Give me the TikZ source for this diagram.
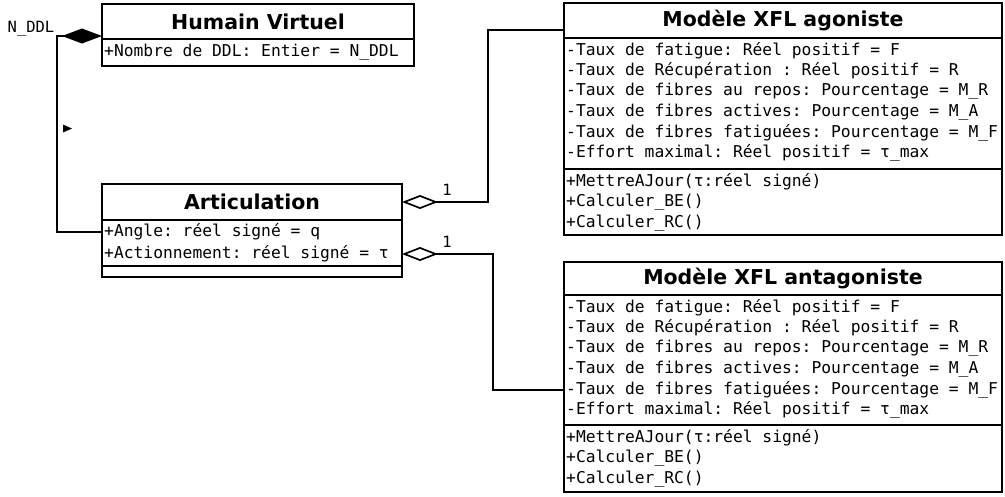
\documentclass[tikz,border=0pt]{standalone}
\usepackage{fontspec}
\newfontfamily\monof{DejaVu Sans Mono}
\newfontfamily\titlef{DejaVu Sans}
\usetikzlibrary{arrows.meta}
\frenchspacing
\begin{document}
\begin{tikzpicture}[x=1pt,y=-1pt,
  box/.style={draw, line width=1.7pt, anchor=north west, inner sep=0pt, outer sep=0pt},
  ttl/.style={font=\titlef\bfseries\fontsize{20.5}{24}\selectfont},
  row/.style={anchor=west, inner sep=0pt, font=\monof\frenchspacing\fontsize{16.3}{19}\selectfont},
  lbl/.style={inner sep=0pt, font=\monof\fontsize{15.5}{18}\selectfont},
  conn/.style={line width=1.7pt}]
\useasboundingbox (0,0) rectangle (1005,496);

% Humain Virtuel
\node[box, ttl, minimum width=312pt, minimum height=35pt] (hvT) at (102,4) {Humain Virtuel};
\node[box, minimum width=312pt, minimum height=27pt] (hvA) at (102,39) {};
\node[row] (hv1) at (104,52.5) {+Nombre de DDL: Entier = N\_DDL};

% Articulation
\node[box, ttl, minimum width=300pt, minimum height=36pt] (artT) at (102,184) {Articulation};
\node[box, minimum width=300pt, minimum height=46pt] (artA) at (102,220) {};
\node[box, minimum width=300pt, minimum height=11pt] (artM) at (102,266) {};
\node[row] (art1) at (104,232) {+Angle: réel signé = q};
\node[row] (art2) at (104,254) {+Actionnement: réel signé = τ};

% Modele XFL agoniste
\node[box, ttl, minimum width=438pt, minimum height=35pt] (agT) at (564,3) {Modèle XFL agoniste};
\node[box, minimum width=438pt, minimum height=131pt] (agA) at (564,38) {};
\node[box, minimum width=438pt, minimum height=66pt] (agM) at (564,169) {};
\node[row] (ag1) at (566,50.5) {-Taux de fatigue: Réel positif = F};
\node[row] (ag2) at (566,71) {-Taux de Récupération : Réel positif = R};
\node[row] (ag3) at (566,91.5) {-Taux de fibres au repos: Pourcentage = M\_R};
\node[row] (ag4) at (566,112) {-Taux de fibres actives: Pourcentage = M\_A};
\node[row] (ag5) at (566,132.5) {-Taux de fibres fatiguées: Pourcentage = M\_F};
\node[row] (ag6) at (566,153) {-Effort maximal: Réel positif = τ\_max};
\node[row] (ag7) at (566,182) {+MettreAJour(τ:réel signé)};
\node[row] (ag8) at (566,202.5) {+Calculer\_BE()};
\node[row] (ag9) at (566,223) {+Calculer\_RC()};

% Modele XFL antagoniste
\node[box, ttl, minimum width=438pt, minimum height=33pt] (anT) at (564,262) {Modèle XFL antagoniste};
\node[box, minimum width=438pt, minimum height=130pt] (anA) at (564,295) {};
\node[box, minimum width=438pt, minimum height=67pt] (anM) at (564,425) {};
\node[row] (an1) at (566,307.5) {-Taux de fatigue: Réel positif = F};
\node[row] (an2) at (566,328) {-Taux de Récupération : Réel positif = R};
\node[row] (an3) at (566,348.5) {-Taux de fibres au repos: Pourcentage = M\_R};
\node[row] (an4) at (566,369) {-Taux de fibres actives: Pourcentage = M\_A};
\node[row] (an5) at (566,389.5) {-Taux de fibres fatiguées: Pourcentage = M\_F};
\node[row] (an6) at (566,410) {-Effort maximal: Réel positif = τ\_max};
\node[row] (an7) at (566,438) {+MettreAJour(τ:réel signé)};
\node[row] (an8) at (566,458.5) {+Calculer\_BE()};
\node[row] (an9) at (566,479) {+Calculer\_RC()};

% Composition Humain Virtuel -- Articulation
\coordinate (k1) at (57,36);
\draw[conn, {Diamond[length=40pt,width=15pt]}-] (hvT.west |- k1) -- (k1) |- (artA.west |- art1);
\node[lbl] (nddl) at (31,29) {N\_DDL};
\fill (63,124.5) -- (72,128.5) -- (63,132.5) -- cycle;

% Aggregations
\coordinate (j1) at (488,30);
\draw[conn, {Diamond[open,length=36pt,width=14pt]}-] (artT.east) -| (j1) -- (agT.west |- j1);
\node[lbl] (m1) at (447,190) {1};
\coordinate (j2) at (493,390);
\draw[conn, {Diamond[open,length=36pt,width=14pt]}-] (artA.east |- art2) -| (j2) -- (anA.west |- j2);
\node[lbl] (m2) at (447,242) {1};
\end{tikzpicture}
\end{document}
